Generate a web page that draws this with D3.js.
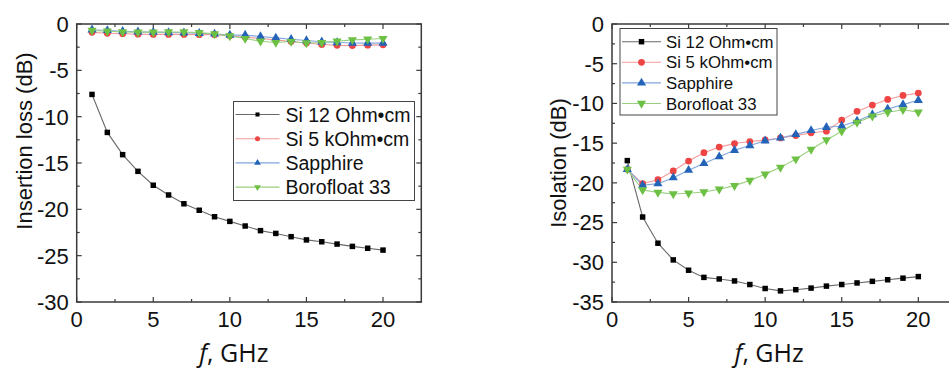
<!DOCTYPE html>
<html>
<head>
<meta charset="utf-8">
<script src="https://cdn.jsdelivr.net/npm/d3@7.9.0/dist/d3.min.js"></script>
<style>
  html, body { margin: 0; padding: 0; background: #fff; }
  svg { display: block; font-family: "Liberation Sans", Arial, sans-serif; }
</style>
</head>
<body>
<svg id="chart" width="949" height="368"></svg>
<script>
// frequency points (GHz)
const freq = d3.range(1, 21);
const seriesNames = ["Si 12 Ohm•cm", "Si 5 kOhm•cm", "Sapphire", "Borofloat 33"];

// insertion loss (dB)
const ilSi12 = [-7.6, -11.7, -14.1, -15.9, -17.4, -18.45, -19.4, -20.1, -20.8, -21.3,
  -21.8, -22.3, -22.6, -22.95, -23.3, -23.5, -23.75, -24.0, -24.2, -24.4];
const ilSi5k = [-0.9, -1.0, -1.05, -1.1, -1.12, -1.12, -1.12, -1.15, -1.15, -1.28,
  -1.43, -1.57, -1.71, -1.89, -2.05, -2.22, -2.3, -2.33, -2.28, -2.25];
const ilSapphire = [-0.62, -0.7, -0.78, -0.85, -0.88, -0.92, -0.95, -1.0, -1.07, -1.2,
  -1.2, -1.35, -1.5, -1.64, -1.78, -1.92, -2.0, -2.05, -2.06, -2.06];
const ilBorofloat = [-0.7, -0.78, -0.85, -0.88, -0.88, -0.86, -0.86, -0.93, -1.07, -1.29,
  -1.57, -1.86, -2.0, -1.89, -2.05, -2.0, -1.86, -1.71, -1.64, -1.57];

// isolation (dB)
const isoSi12 = [-17.2, -24.3, -27.6, -29.7, -31.0, -31.9, -32.1, -32.35, -32.8, -33.3,
  -33.6, -33.45, -33.25, -33.0, -32.8, -32.6, -32.4, -32.2, -32.0, -31.8];
const isoSi5k = [-18.3, -20.1, -19.6, -18.5, -17.25, -16.2, -15.5, -15.05, -14.8, -14.6,
  -14.35, -14.05, -13.7, -13.5, -12.1, -11.0, -10.2, -9.5, -9.0, -8.7];
const isoSapphire = [-18.3, -20.3, -20.1, -19.35, -18.4, -17.55, -16.7, -15.9, -15.3, -14.7,
  -14.35, -13.9, -13.4, -13.0, -12.85, -12.2, -11.4, -10.7, -10.15, -9.6];
const isoBorofloat = [-18.3, -20.9, -21.2, -21.4, -21.3, -21.15, -20.8, -20.35, -19.7, -18.9,
  -18.05, -17.0, -15.8, -14.6, -13.5, -12.4, -11.6, -11.1, -10.8, -11.1];

const xTicks = [0, 5, 10, 15, 20];
const ilTicks = [0, -5, -10, -15, -20, -25, -30];
const isoTicks = [0, -5, -10, -15, -20, -25, -30, -35];

const styles = [
  { line: "#6a6a6a", fill: "#000000", symbol: d3.symbolSquare, size: 30, rot: 0 },
  { line: "#f49a9a", fill: "#ef4444", symbol: d3.symbolCircle, size: 36, rot: 0 },
  { line: "#7fa6dc", fill: "#2364b8", symbol: d3.symbolTriangle, size: 36, rot: 0 },
  { line: "#99d07f", fill: "#6cc043", symbol: d3.symbolTriangle, size: 36, rot: 180 }
];

const svg = d3.select("#chart");

function drawPanel(opt) {
  const x = d3.scaleLinear().domain([0, 22.5]).range([opt.left, opt.left + 344.6]);
  const y = d3.scaleLinear().domain(opt.yDomain).range([302, 24]);
  const g = svg.append("g");

  const frame = "#3a3a3a";
  const [x0, x1] = x.range();
  // ticks, all pointing inside
  const xMinor = d3.range(2.5, 22.5, 5);
  const yMinor = d3.range(opt.yDomain[0] + 2.5, 0, 5);

  xTicks.concat(xMinor).forEach(v => {
    const len = xTicks.includes(v) ? 5 : 3;
    g.append("line").attr("x1", x(v)).attr("x2", x(v)).attr("y1", 302).attr("y2", 302 - len)
      .attr("stroke", frame).attr("stroke-width", 1.2);
    g.append("line").attr("x1", x(v)).attr("x2", x(v)).attr("y1", 24).attr("y2", 24 + len)
      .attr("stroke", frame).attr("stroke-width", 1.2);
  });
  opt.yTicks.concat(yMinor).forEach(v => {
    const len = opt.yTicks.includes(v) ? 5 : 3;
    g.append("line").attr("x1", x0).attr("x2", x0 + len).attr("y1", y(v)).attr("y2", y(v))
      .attr("stroke", frame).attr("stroke-width", 1.2);
    g.append("line").attr("x1", x1).attr("x2", x1 - len).attr("y1", y(v)).attr("y2", y(v))
      .attr("stroke", frame).attr("stroke-width", 1.2);
  });

  g.append("rect").attr("x", x0).attr("y", 24).attr("width", x1 - x0).attr("height", 278)
    .attr("fill", "none").attr("stroke", frame).attr("stroke-width", 1.5);

  // tick labels
  g.selectAll(".xl").data(xTicks).join("text")
    .attr("x", d => x(d)).attr("y", 327).attr("text-anchor", "middle")
    .attr("font-size", 22).attr("fill", "#111").text(d => d);
  g.selectAll(".yl").data(opt.yTicks).join("text")
    .attr("x", x0 - 8).attr("y", d => y(d)).attr("dy", "0.36em").attr("text-anchor", "end")
    .attr("font-size", 22).attr("fill", "#111").text(d => d);

  // axis titles
  g.append("text")
    .attr("transform", `translate(${opt.yTitleX},${opt.yTitleY}) rotate(-90)`)
    .attr("dy", "0.36em").attr("text-anchor", "middle").attr("font-size", 22).attr("fill", "#111")
    .text(opt.yTitle);
  const xt = g.append("text").attr("x", x(10) + 4).attr("y", 362).attr("text-anchor", "middle")
    .attr("font-family", "'Open Sans', sans-serif").attr("font-size", 25).attr("fill", "#111");
  xt.append("tspan").attr("font-style", "italic").text("f");
  xt.append("tspan").text(", GHz");

  // series
  const line = d3.line().x((d, i) => x(freq[i])).y(d => y(d));
  opt.series.forEach((vals, k) => {
    const s = styles[k];
    g.append("path").attr("d", line(vals)).attr("fill", "none")
      .attr("stroke", s.line).attr("stroke-width", 1.1);
  });
  opt.series.forEach((vals, k) => {
    const s = styles[k];
    const sym = d3.symbol().type(s.symbol).size(s.size);
    g.selectAll(null).data(vals).join("path")
      .attr("d", sym)
      .attr("transform", (d, i) => `translate(${x(freq[i])},${y(d)}) rotate(${s.rot})`)
      .attr("fill", s.fill);
  });

  // legend
  const L = opt.legend;
  g.append("rect").attr("x", L.x).attr("y", L.y).attr("width", L.w).attr("height", L.h)
    .attr("fill", "#fff").attr("stroke", "#444").attr("stroke-width", 1);
  seriesNames.forEach((name, k) => {
    const s = styles[k];
    const cy = L.y + L.first + k * L.step;
    g.append("line").attr("x1", L.x + 2).attr("x2", L.x + 2 + L.lineW).attr("y1", cy).attr("y2", cy)
      .attr("stroke", s.line).attr("stroke-width", 1.1);
    g.append("path").attr("d", d3.symbol().type(s.symbol).size(s.size * L.mScale))
      .attr("transform", `translate(${L.x + 2 + L.lineW / 2},${cy}) rotate(${s.rot})`)
      .attr("fill", s.fill);
    g.append("text").attr("x", L.x + L.textX).attr("y", cy).attr("dy", "0.36em")
      .attr("font-size", L.font).attr("fill", "#111").text(name);
  });
}

drawPanel({
  left: 76.7,
  yDomain: [-30, 0],
  yTicks: ilTicks,
  yTitle: "Insertion loss (dB)",
  yTitleX: 24, yTitleY: 141,
  series: [ilSi12, ilSi5k, ilSapphire, ilBorofloat],
  legend: { x: 233.5, y: 101.5, w: 181, h: 99, first: 13, step: 24.2, lineW: 44, textX: 52, font: 19.5, mScale: 0.55 }
});

drawPanel({
  left: 612,
  yDomain: [-35, 0],
  yTicks: isoTicks,
  yTitle: "Isolation (dB)",
  yTitleX: 558, yTitleY: 163,
  series: [isoSi12, isoSi5k, isoSapphire, isoBorofloat],
  legend: { x: 620, y: 28.5, w: 157, h: 86.5, first: 13.2, step: 20.6, lineW: 39, textX: 46, font: 16.8, mScale: 1 }
});
</script>
</body>
</html>
